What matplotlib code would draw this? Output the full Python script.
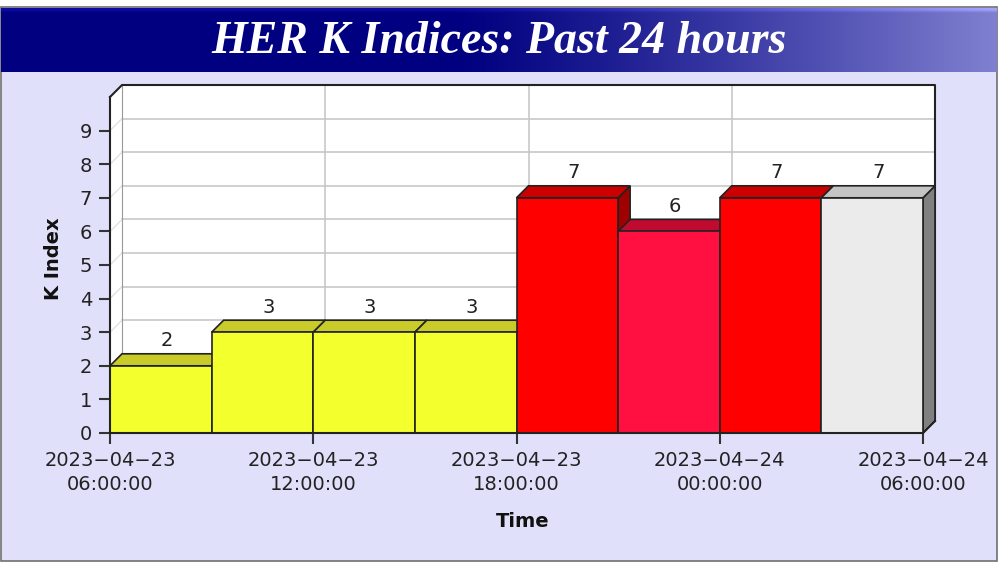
import matplotlib
matplotlib.use("Agg")
import matplotlib.pyplot as plt
import numpy as np
import pandas as pd
from matplotlib.patches import Polygon, Rectangle

# ---------------- data ----------------
title = "HER K Indices: Past 24 hours"
bin_starts = ["2023-04-23 06:00", "2023-04-23 09:00", "2023-04-23 12:00", "2023-04-23 15:00",
              "2023-04-23 18:00", "2023-04-23 21:00", "2023-04-24 00:00", "2023-04-24 03:00"]
bin_hours = 3
k_values = [2, 3, 3, 3, 7, 6, 7, 7]
bar_colors = ["#f4ff2e", "#f4ff2e", "#f4ff2e", "#f4ff2e", "#ff0000", "#ff1040", "#ff0000", "#ebebeb"]
top_colors = ["#c9cc28", "#c9cc28", "#c9cc28", "#c9cc28", "#cc0000", "#c00a30", "#cc0000", "#c4c4c4"]
side_colors = ["#a8ab20", "#a8ab20", "#a8ab20", "#a8ab20", "#a00000", "#a00a28", "#a00000", "#808080"]
xtick_times = ["2023-04-23 06:00", "2023-04-23 12:00", "2023-04-23 18:00",
               "2023-04-24 00:00", "2023-04-24 06:00"]
xtick_labels = ["2023\u221204\u221223\n06:00:00", "2023\u221204\u221223\n12:00:00",
                "2023\u221204\u221223\n18:00:00", "2023\u221204\u221224\n00:00:00",
                "2023\u221204\u221224\n06:00:00"]
ytick_values = [0, 1, 2, 3, 4, 5, 6, 7, 8, 9]
y_max = 10
x_label = "Time"
y_label = "K Index"

# ---------------- layout ----------------
W, H = 999, 563
fig = plt.figure(figsize=(W / 100, H / 100), dpi=100)
fig.patch.set_facecolor("white")

bg = fig.add_axes([0, 0, 1, 1], zorder=0)
bg.set_xlim(0, W)
bg.set_ylim(H, 0)
bg.axis("off")
bg.add_patch(Rectangle((1, 7), W - 3, H - 9, facecolor="#e0e0fa", edgecolor="#707070", lw=1.2))

# banner gradient
nx = 400
t = np.linspace(0, 1, nx)
navy = np.array([0, 0, 128]) / 255
light = np.array([128, 128, 208]) / 255
f = np.clip((t - 0.45) / 0.55, 0, 1) ** 1.2
row = navy[None, :] * (1 - f[:, None]) + light[None, :] * f[:, None]
ny = 20
grad = np.repeat(row[None, :, :], ny, axis=0)
vshade = np.ones(ny)
vshade[:1] = 1.2
grad = np.clip(grad * vshade[:, None, None] + (vshade[:, None, None] - 1) * 0.2, 0, 1)
bg.imshow(grad, extent=(1, W - 2, 72, 8), aspect="auto", interpolation="bilinear", zorder=1)
bg.text(W / 2, 42, title, color="white", fontsize=33, fontweight="bold", fontstyle="italic",
        family="Liberation Serif", ha="center", va="center", zorder=2)

# main axes
px_left, px_right, px_top, px_bottom = 110, 935, 85, 433
ax = fig.add_axes([px_left / W, 1 - px_bottom / H, (px_right - px_left) / W, (px_bottom - px_top) / H],
                  zorder=1)
ax.patch.set_visible(False)

t0 = pd.Timestamp(bin_starts[0])
starts = np.array([(pd.Timestamp(s) - t0).total_seconds() / 3600 for s in bin_starts])
xt = np.array([(pd.Timestamp(s) - t0).total_seconds() / 3600 for s in xtick_times])
x_end = xt[-1]

px_per_h = (923 - px_left) / x_end
depth_px = 12
dx = depth_px / px_per_h
x_hi = (px_right - px_left) / px_per_h
u = (px_bottom - px_top - depth_px) / y_max
dy = depth_px / u
ax.set_xlim(0, x_hi)
ax.set_ylim(0, y_max + dy)

edge = "#222222"
# back wall
ax.add_patch(Rectangle((dx, dy), x_end, y_max, facecolor="white", edgecolor="none", zorder=1))
# left wall
ax.add_patch(Polygon([(0, 0), (dx, dy), (dx, y_max + dy), (0, y_max)], closed=True,
                     facecolor="white", edgecolor="none", zorder=1))
# grid
for yv in ytick_values[1:]:
    ax.plot([dx, x_end + dx], [yv + dy, yv + dy], color="#c8c8c8", lw=1.2, zorder=2)
    ax.plot([0, dx], [yv, yv + dy], color="#e2e2e2", lw=1.0, zorder=2)
for xv in xt[1:-1]:
    ax.plot([xv + dx, xv + dx], [dy, y_max + dy], color="#c8c8c8", lw=1.2, zorder=2)
# outlines of walls
ax.plot([0, dx, x_end + dx, x_end + dx], [y_max, y_max + dy, y_max + dy, dy],
        color=edge, lw=1.5, zorder=3, clip_on=False)
ax.plot([dx, dx], [dy, y_max + dy], color="#999999", lw=0.8, zorder=2)

# bars
for i, (s, v) in enumerate(zip(starts, k_values)):
    x0, x1 = s, s + bin_hours
    ax.add_patch(Polygon([(x1, 0), (x1 + dx, dy), (x1 + dx, v + dy), (x1, v)], closed=True,
                         facecolor=side_colors[i], edgecolor=edge, lw=1.2, zorder=4 + i))
    ax.add_patch(Polygon([(x0, v), (x0 + dx, v + dy), (x1 + dx, v + dy), (x1, v)], closed=True,
                         facecolor=top_colors[i], edgecolor=edge, lw=1.2, zorder=4 + i))
    ax.add_patch(Rectangle((x0, 0), bin_hours, v, facecolor=bar_colors[i], edgecolor=edge,
                           lw=1.2, zorder=4 + i))
    ax.text((x0 + x1) / 2 + dx / 2, v + dy + 0.1, str(v), ha="center", va="bottom",
            fontsize=14, color="#222222", zorder=20)

# front axis lines
ax.plot([0, 0], [0, y_max], color=edge, lw=1.5, zorder=30, clip_on=False)
ax.plot([0, x_end, x_end + dx], [0, 0, dy], color=edge, lw=1.5, zorder=30, clip_on=False)

for sp in ax.spines.values():
    sp.set_visible(False)
ax.set_yticks(ytick_values)
ax.set_yticklabels([str(v) for v in ytick_values])
ax.set_xticks(xt)
ax.set_xticklabels(xtick_labels, linespacing=1.3)
ax.tick_params(axis="both", direction="out", length=8, width=1.5, color="#333333",
               labelsize=14, labelcolor="#222222")
ax.tick_params(axis="y", pad=5)
ax.tick_params(axis="x", pad=5)
ax.set_xlabel(x_label, fontsize=14, fontweight="bold", color="#111111", labelpad=13)
ax.set_ylabel(y_label, fontsize=14, fontweight="bold", color="#111111", labelpad=12)

fig.savefig("out.png", dpi=100)
